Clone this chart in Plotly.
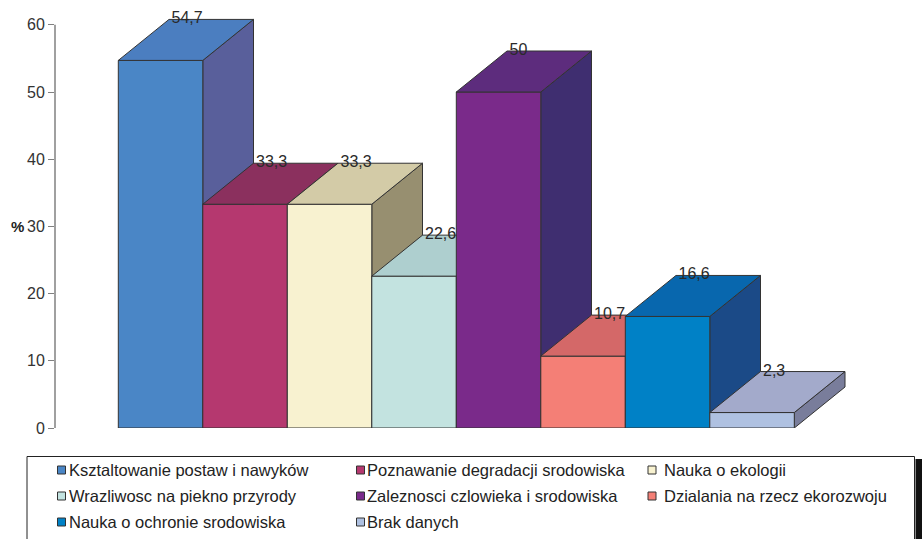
import plotly.graph_objects as go

# Data
categories = [
    "Ksztaltowanie postaw i nawyków",
    "Poznawanie degradacji srodowiska",
    "Nauka o ekologii",
    "Wrazliwosc na piekno przyrody",
    "Zaleznosci czlowieka i srodowiska",
    "Dzialania na rzecz ekorozwoju",
    "Nauka o ochronie srodowiska",
    "Brak danych",
]
values = [54.7, 33.3, 33.3, 22.6, 50.0, 10.7, 16.6, 2.3]
y_ticks = [0, 10, 20, 30, 40, 50, 60]

# Face colours: front, top, side
front_colors = ["#4A86C6", "#B5386F", "#F8F2D0", "#C3E3E0", "#7A2A8A", "#F47F76", "#0081C6", "#AFC1E1"]
top_colors = ["#4B7EC0", "#8B305E", "#D3CBA7", "#AECFCF", "#5D2C7D", "#D46868", "#0867AE", "#A3AACB"]
side_colors = ["#595F9B", "#7A2A55", "#978F70", "#8FB0AE", "#3F2E70", "#A0524F", "#1B4A87", "#797D9B"]

FONT = "Liberation Sans, Arial, sans-serif"
EDGE = "#333333"

# Geometry of the page (pixels)
W, H = 922, 539
M_L, M_R, M_T, M_B = 55, 22, 8, 111
PLOT_W = W - M_L - M_R
PLOT_H = H - M_T - M_B
PX_PER_UNIT_Y = 6.72
PX_PER_BAR = 84.5
Y_MAX = PLOT_H / PX_PER_UNIT_Y
X0 = -(118.3 - M_L) / PX_PER_BAR
X1 = X0 + PLOT_W / PX_PER_BAR

# 3D depth offset, in data units
DX = 50.7 / PX_PER_BAR
DY = 41.0 / PX_PER_UNIT_Y
LABEL_NUDGE = 2.5 / PX_PER_BAR


def px_to_paper_x(px):
    return (px - M_L) / PLOT_W


def px_to_paper_y(py):
    return (H - M_B - py) / PLOT_H


def face(xs, ys, color):
    return go.Scatter(
        x=xs + [xs[0]], y=ys + [ys[0]], mode="lines", fill="toself",
        fillcolor=color, line=dict(color=EDGE, width=1),
        hoverinfo="skip", showlegend=False,
    )


fig = go.Figure()

for i, v in enumerate(values):
    l, r = i, i + 1
    # side face
    fig.add_trace(face([r, r + DX, r + DX, r], [0, DY, v + DY, v], side_colors[i]))
    # front face
    fig.add_trace(face([l, r, r, l], [0, 0, v, v], front_colors[i]))
    # top face
    fig.add_trace(face([l, r, r + DX, l + DX], [v, v, v + DY, v + DY], top_colors[i]))
    # value label on the back edge of the top
    fig.add_trace(go.Scatter(
        x=[l + DX + LABEL_NUDGE], y=[v + DY], mode="text",
        text=[f"{v:g}".replace(".", ",")], textposition="middle right",
        textfont=dict(family=FONT, size=16, color="#2a2a2a"),
        cliponaxis=False, hoverinfo="skip", showlegend=False,
    ))

shapes = []
annotations = []

# y axis line from 0 to 60
shapes.append(dict(type="line", xref="paper", yref="y", x0=0, x1=0, y0=0, y1=60,
                   line=dict(color="#808080", width=1.5), layer="below"))

# "%" axis label
annotations.append(dict(xref="paper", yref="y", x=px_to_paper_x(17), y=30,
                        text="<b>%</b>", showarrow=False, xanchor="center", yanchor="middle",
                        font=dict(family=FONT, size=15, color="#222222")))

# Legend frame with dark shadow on the right
shapes.append(dict(type="rect", xref="paper", yref="paper",
                   x0=px_to_paper_x(27), x1=px_to_paper_x(914.5),
                   y0=px_to_paper_y(560), y1=px_to_paper_y(456.5),
                   line=dict(color="#222222", width=1), fillcolor="rgba(0,0,0,0)"))
shapes.append(dict(type="rect", xref="paper", yref="paper",
                   x0=px_to_paper_x(915.5), x1=px_to_paper_x(925),
                   y0=px_to_paper_y(560), y1=px_to_paper_y(459),
                   line=dict(width=0), fillcolor="#111111"))

col_marker_x = [61.5, 360.5, 652.0]
col_text_x = [68.5, 367.0, 664.0]
row_y = [470.0, 496.0, 522.0]
for i, name in enumerate(categories):
    row, col = divmod(i, 3)
    cx, cy = col_marker_x[col], row_y[row]
    shapes.append(dict(type="rect", xref="paper", yref="paper",
                       x0=px_to_paper_x(cx - 4), x1=px_to_paper_x(cx + 4),
                       y0=px_to_paper_y(cy + 4), y1=px_to_paper_y(cy - 4),
                       line=dict(color=EDGE, width=1), fillcolor=front_colors[i]))
    annotations.append(dict(xref="paper", yref="paper",
                            x=px_to_paper_x(col_text_x[col] - 2), y=px_to_paper_y(cy),
                            text=name, showarrow=False, xanchor="left", yanchor="middle",
                            font=dict(family=FONT, size=16.5, color="#222222")))

fig.update_layout(
    width=W, height=H,
    margin=dict(l=M_L, r=M_R, t=M_T, b=M_B),
    paper_bgcolor="white", plot_bgcolor="white",
    showlegend=False,
    shapes=shapes, annotations=annotations,
    xaxis=dict(range=[X0, X1], visible=False, fixedrange=True),
    yaxis=dict(range=[0, Y_MAX], tickvals=y_ticks, ticktext=[str(t) for t in y_ticks],
               ticks="outside", ticklen=6, tickwidth=1.2, tickcolor="#808080",
               showline=False, showgrid=False, zeroline=False,
               tickfont=dict(family=FONT, size=16, color="#333333"), fixedrange=True),
)

fig.write_html("out.html")
